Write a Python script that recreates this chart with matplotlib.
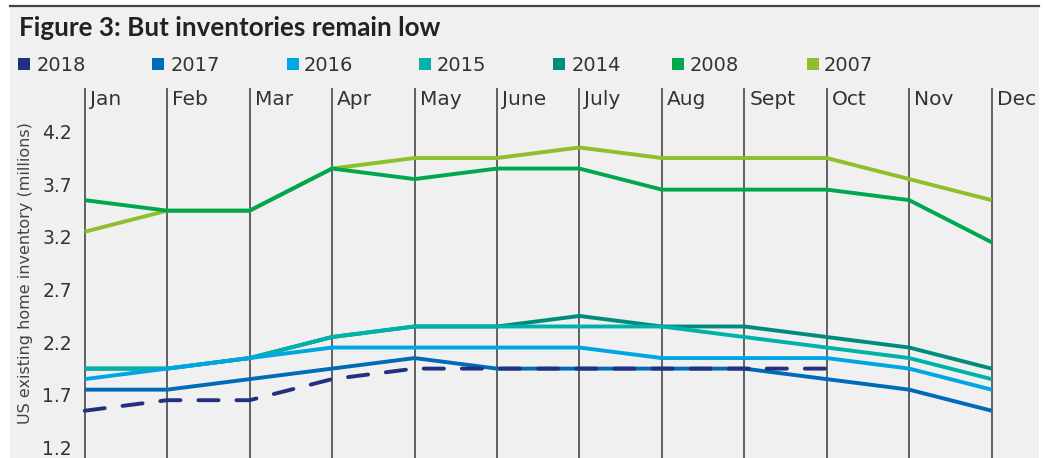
import matplotlib.pyplot as plt
import matplotlib.transforms as mtransforms
from matplotlib.patches import Rectangle
from matplotlib.lines import Line2D
import numpy as np

# data (US existing home inventory, millions)
months = ['Jan', 'Feb', 'Mar', 'Apr', 'May', 'June', 'July', 'Aug', 'Sept', 'Oct', 'Nov', 'Dec']
y2007 = [3.2, 3.4, 3.4, 3.8, 3.9, 3.9, 4.0, 3.9, 3.9, 3.9, 3.7, 3.5]
y2008 = [3.5, 3.4, 3.4, 3.8, 3.7, 3.8, 3.8, 3.6, 3.6, 3.6, 3.5, 3.1]
y2014 = [1.9, 1.9, 2.0, 2.2, 2.3, 2.3, 2.4, 2.3, 2.3, 2.2, 2.1, 1.9]
y2015 = [1.9, 1.9, 2.0, 2.2, 2.3, 2.3, 2.3, 2.3, 2.2, 2.1, 2.0, 1.8]
y2016 = [1.8, 1.9, 2.0, 2.1, 2.1, 2.1, 2.1, 2.0, 2.0, 2.0, 1.9, 1.7]
y2017 = [1.7, 1.7, 1.8, 1.9, 2.0, 1.9, 1.9, 1.9, 1.9, 1.8, 1.7, 1.5]
y2018 = [1.5, 1.6, 1.6, 1.8, 1.9, 1.9, 1.9, 1.9, 1.9, 1.9, np.nan, np.nan]
yticks = [1.2, 1.7, 2.2, 2.7, 3.2, 3.7, 4.2]

# (label, values, colour) in drawing order
series = [
    ('2007', y2007, '#8DC02A'),
    ('2008', y2008, '#00A74F'),
    ('2014', y2014, '#008C7A'),
    ('2015', y2015, '#00B2AA'),
    ('2016', y2016, '#00A5E3'),
    ('2017', y2017, '#006BB6'),
    ('2018', y2018, '#23307F'),
]

W, H = 1045, 458
fig = plt.figure(figsize=(W / 100, H / 100), dpi=100)
fig.patch.set_facecolor('white')

def fx(px):
    return px / W

def fy(py):
    return 1 - py / H

# grey panel + top rule
fig.add_artist(Rectangle((fx(10), 0), fx(1039) - fx(10), fy(6), transform=fig.transFigure,
                         facecolor='#F0F0F0', edgecolor='none', zorder=0))
fig.add_artist(Line2D([fx(10), fx(1039)], [fy(6), fy(6)], transform=fig.transFigure,
                      color='#444444', lw=1.6, zorder=1))

fig.text(fx(19), fy(36), 'Figure 3: But inventories remain low', family='Lato',
         fontweight='bold', fontsize=18.7, color='#222222', va='baseline', ha='left')

# legend (manual, as in the original)
leg_sq_x = [18, 152, 287, 419, 553, 672, 807]
leg_tx_x = [37, 171, 304, 437, 572, 690, 824]
for k, (lab, vals, col) in enumerate(series[::-1]):
    fig.add_artist(Rectangle((fx(leg_sq_x[k]), fy(70)), fx(12), 12 / H,
                             transform=fig.transFigure, facecolor=col, edgecolor='none'))
    fig.text(fx(leg_tx_x[k]), fy(63.5), lab, fontsize=14, color='#333333',
             va='center_baseline', ha='left')

ax = fig.add_axes([fx(78), 0, fx(1039) - fx(78), (H - 88) / H])
ax.set_facecolor('none')
for s in ax.spines.values():
    s.set_visible(False)

x = np.arange(len(months))
ax.set_xlim((78 - 84.7) / 82.45, (1039 - 84.7) / 82.45)
ax.set_ylim(1.051, 4.565)

for i, m in enumerate(months):
    ax.axvline(i, color='#555555', lw=1.3, zorder=1)
    ax.annotate(m, xy=(i, 1), xycoords=('data', 'axes fraction'), xytext=(5, -17),
                textcoords='offset pixels', ha='left', va='baseline', fontsize=14.5,
                color='#333333')

for z, (lab, vals, col) in enumerate(series):
    if lab == '2018':
        ax.plot(x, vals, color=col, lw=2.8, ls=(0, (5.2, 4.6)), dash_capstyle='round',
                zorder=3 + z)
    else:
        ax.plot(x, vals, color=col, lw=2.8, solid_capstyle='butt', zorder=3 + z)

ax.set_xticks([])
ax.set_yticks(yticks)
ax.set_yticklabels([f'{v:.1f}' for v in yticks])
ax.tick_params(axis='y', length=0, pad=4.3, labelsize=13.5, labelcolor='#333333')
shift = mtransforms.ScaledTranslation(0, -5 / 100, fig.dpi_scale_trans)
for t in ax.get_yticklabels():
    t.set_transform(t.get_transform() + shift)

fig.text(fx(26), fy(273), 'US existing home inventory (millions)', rotation=90,
         fontsize=11.5, color='#444444', ha='center', va='center')

fig.savefig('out.png', dpi=100, facecolor=fig.get_facecolor())
